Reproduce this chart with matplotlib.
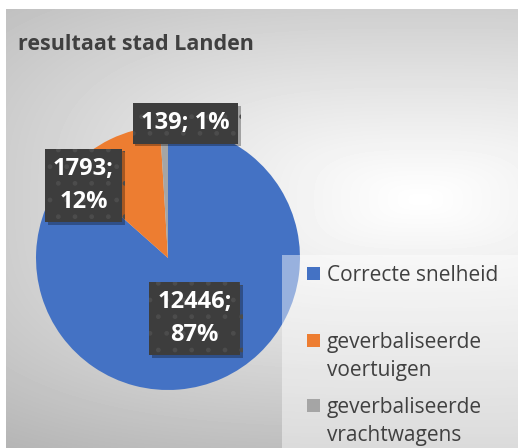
import numpy as np
import matplotlib
matplotlib.use('Agg')
import matplotlib.pyplot as plt
import matplotlib.patheffects as pe
from matplotlib.patches import Rectangle

# data
categories = ['Correcte snelheid', 'geverbaliseerde\nvoertuigen', 'geverbaliseerde\nvrachtwagens']
values = [12446, 1793, 139]
colors = ['#4472C4', '#ED7D31', '#A5A5A5']
title = 'resultaat stad Landen'

W, H = 518, 448
fig = plt.figure(figsize=(W / 100, H / 100), dpi=100)
fig.patch.set_facecolor('white')

# gradient background of the chart area (soft rectangular gradient)
bg = fig.add_axes([6 / W, 0, (W - 6) / W, (H - 9) / H])
bw, bh = W - 6, H - 9
xx, yy = np.meshgrid(np.arange(bw), np.arange(bh))
dx = np.abs(xx - 414) / 430
dy = np.abs(yy - 190) / 200
r = (dx ** 3 + dy ** 3) ** (1 / 3)
shade = 1 - 0.2 * r ** 1.1
bg.imshow(shade, cmap='gray', vmin=0, vmax=1, aspect='auto', interpolation='bilinear')
bg.axis('off')

# pie: centre (168, 258) px, radius 132 px
cx, cy, rad = 168, 258, 132
ax = fig.add_axes([(cx - rad) / W, (H - cy - rad) / H, 2 * rad / W, 2 * rad / H])
ax.pie(values, colors=colors, startangle=90, counterclock=False,
       wedgeprops=dict(linewidth=0))
ax.set_xlim(-1, 1)
ax.set_ylim(-1, 1)
ax.set_aspect('auto')
ax.axis('off')

total = sum(values)
label_pos = [(0.2, -0.46), (-0.64, 0.55), (0.13, 1.02)]
for v, (lx, ly) in zip(values, label_pos):
    pct = round(v / total * 100)
    if v < 1000:
        s = f'{v}; {pct}%'
    else:
        s = f'{v};\n{pct}%'
    t = ax.text(lx, ly, s, ha='center', va='center', color='white',
                fontsize=17, fontweight='bold', family='Open Sans', linespacing=1.5,
                bbox=dict(boxstyle='square,pad=0.35', facecolor='#3d3d3d',
                          edgecolor='#4c4c4c', hatch='.', linewidth=0), clip_on=False)
    t.get_bbox_patch().set_path_effects([pe.withSimplePatchShadow(offset=(2, -2), shadow_rgbFace='black', alpha=0.3)])

# title
fig.text(18 / W, 1 - 50 / H, title, fontsize=15.5, fontweight='bold', color='#404040',
         family='Open Sans', va='baseline', ha='left')

# legend panel
fig.patches.append(Rectangle((282 / W, 0), 1 - 282 / W, 1 - 255 / H, transform=fig.transFigure,
                             facecolor='white', alpha=0.45, edgecolor='none', zorder=1))
leg_y = [273, 340, 405]
for cat, col, y in zip(categories, colors, leg_y):
    fig.patches.append(Rectangle((307 / W, 1 - (y + 7) / H), 13 / W, 13 / H,
                                 transform=fig.transFigure, facecolor=col, edgecolor='none', zorder=2))
    for i, line in enumerate(cat.split('\n')):
        fig.text(327 / W, 1 - (y + 28 * i) / H, line, fontsize=15, color='#404040',
                 family='Open Sans', va='center_baseline', ha='left', zorder=3)

fig.savefig('out.png', dpi=100)
